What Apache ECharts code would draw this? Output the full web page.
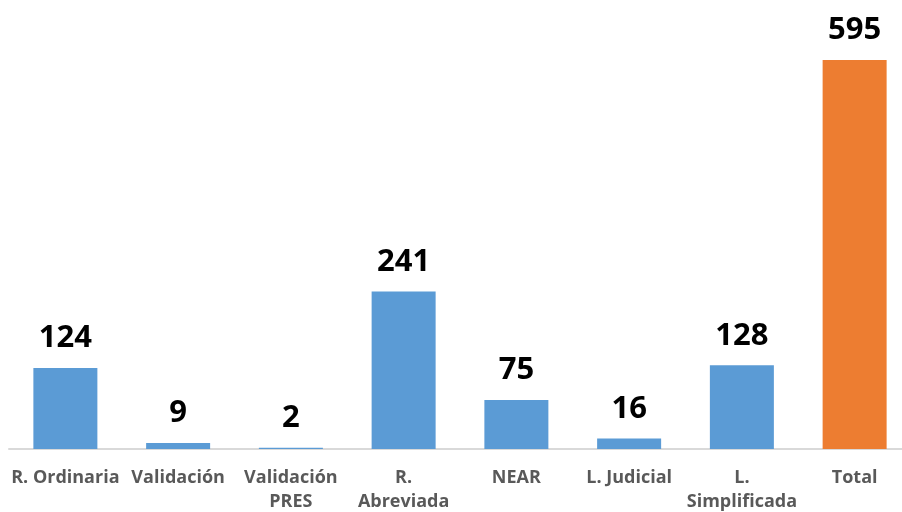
<!DOCTYPE html>
<html>
<head>
<meta charset="utf-8">
<script src="https://cdn.jsdelivr.net/npm/echarts@6/dist/echarts.min.js"></script>
<style>
  html, body { margin: 0; padding: 0; background: #fff; overflow: hidden; }
  #chart { width: 911px; height: 512px; }
</style>
</head>
<body>
<div id="chart"></div>
<script>
const categories = ['R. Ordinaria', 'Validación', 'Validación\nPRES', 'R.\nAbreviada', 'NEAR', 'L. Judicial', 'L.\nSimplificada', 'Total']
const values = [124, 9, 2, 241, 75, 16, 128, 595]
const totalName = 'Total'

const chart = echarts.init(document.getElementById('chart'))

const barData = values.map((v, i) => ({
  value: v,
  itemStyle: { color: categories[i] === totalName ? '#ED7D31' : '#5B9BD5' }
}))

chart.setOption({
  animation: false,
  grid: { left: 9, right: 0, top: 56.7, bottom: 63, containLabel: false, outerBoundsMode: 'none' },
  xAxis: {
    type: 'category',
    data: categories,
    axisTick: { show: false },
    axisLine: { lineStyle: { color: '#D9D9D9', width: 2 } },
    axisLabel: {
      interval: 0,
      margin: 17,
      color: '#595959',
      fontFamily: 'Open Sans',
      fontWeight: 'bold',
      fontSize: 18,
      lineHeight: 24
    }
  },
  yAxis: {
    type: 'value',
    min: 0,
    max: 600,
    show: false,
    splitLine: { show: false }
  },
  series: [{
    type: 'bar',
    data: barData,
    barWidth: 64,
    label: {
      show: true,
      position: 'top',
      distance: 14,
      color: '#000',
      fontFamily: 'Open Sans',
      fontWeight: 'bold',
      fontSize: 31
    }
  }]
})
</script>
</body>
</html>
